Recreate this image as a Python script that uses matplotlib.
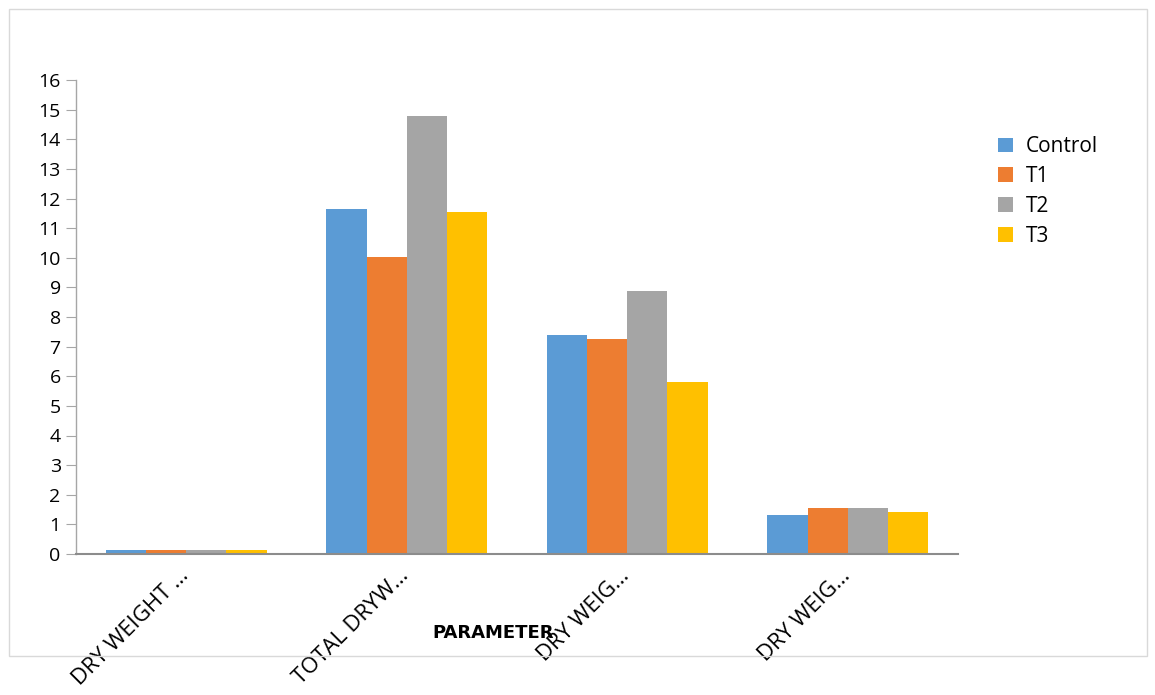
import matplotlib
matplotlib.use("Agg")
import matplotlib.pyplot as plt
from matplotlib.patches import Rectangle
import numpy as np

plt.rcParams["font.family"] = ["Open Sans", "DejaVu Sans"]

# ── Data ──────────────────────────────────────────────────────────────────────
categories = ["DRY WEIGHT …", "TOTAL DRYW…", "DRY WEIG…", "DRY WEIG…"]
series_names = ["Control", "T1", "T2", "T3"]
control = [0.14, 11.65, 7.40, 1.32]
t1 = [0.14, 10.03, 7.26, 1.55]
t2 = [0.14, 14.80, 8.88, 1.55]
t3 = [0.14, 11.55, 5.81, 1.42]
y_ticks = list(range(0, 17))

COLORS = ["#5B9BD5", "#ED7D31", "#A5A5A5", "#FFC000"]

W, H = 1155, 695
fig = plt.figure(figsize=(W / 100, H / 100), dpi=100)
fig.patch.set_facecolor("white")

# outer chart border
fig.patches.append(Rectangle((9 / W, 1 - 656 / H), (1147 - 9) / W, (656 - 9) / H,
                             transform=fig.transFigure, fill=False,
                             edgecolor="#D9D9D9", linewidth=1.0))

ax = fig.add_axes([76 / W, 1 - 554 / H, (958 - 76) / W, (554 - 80) / H])

x = np.arange(len(categories))
bar_w = 0.182
for i, (vals, name, col) in enumerate(zip([control, t1, t2, t3], series_names, COLORS)):
    ax.bar(x + (i - 1.5) * bar_w, vals, width=bar_w, color=col, label=name,
           zorder=3)

ax.set_xlim(-0.5, len(categories) - 0.5)
ax.set_ylim(0, 16)
ax.set_yticks(y_ticks)
ax.tick_params(axis="y", direction="out", length=7, color="#A6A6A6",
               labelsize=14, pad=4)
ax.set_xticks(x)
ax.set_xticklabels([])
ax.tick_params(axis="x", length=0)

for s in ["top", "right"]:
    ax.spines[s].set_visible(False)
ax.spines["left"].set_color("#A6A6A6")
ax.spines["left"].set_linewidth(1.0)
ax.spines["bottom"].set_color("#8C8C8C")
ax.spines["bottom"].set_linewidth(1.5)
ax.spines["bottom"].set_zorder(4)

# rotated category labels, ending near the category centre
for xi, lab in zip(x, categories):
    ax.annotate(lab, xy=(xi, 0), xycoords=("data", "axes fraction"),
                xytext=(-6, -8), textcoords="offset points",
                rotation=45, rotation_mode="anchor", ha="right", va="top",
                fontsize=16)

fig.text(493 / W, 1 - 633 / H, "PARAMETER", ha="center", va="center",
         fontsize=13, fontweight="bold", family="DejaVu Sans")

fig.legend(loc="upper left", bbox_to_anchor=(990 / W, 1 - 128 / H),
           frameon=False, fontsize=15, handlelength=0.7, handleheight=0.7,
           handletextpad=0.6, labelspacing=0.42, borderaxespad=0)

fig.savefig("out.png", dpi=100)
